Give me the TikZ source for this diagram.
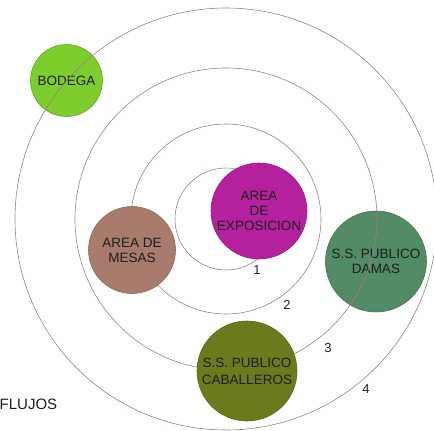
\documentclass[tikz,border=0pt]{standalone}
\usepackage{fontspec}
\setmainfont{Liberation Sans}
\usepackage{tikz}
\usetikzlibrary{
  positioning
}
\definecolor{RingMauve}{RGB}{160,128,132}
\definecolor{BodegaGreen}{RGB}{125,205,45}
\definecolor{ExpoMagenta}{RGB}{181,32,158}
\definecolor{MesasBrown}{RGB}{169,123,108}
\definecolor{DamasGreen}{RGB}{82,139,101}
\definecolor{CaballerosOlive}{RGB}{107,122,28}
\definecolor{LabelInk}{RGB}{30,30,30}
\tikzset{
  zone/.style={
    circle,
    inner sep=0pt,
    line width=0.6pt,
    align=center,
    text=LabelInk,
    font=\fontsize{13.5}{15}\selectfont
  },
  bodegazone/.style={zone,draw=BodegaGreen!80!black,fill=BodegaGreen},
  expozone/.style={zone,draw=ExpoMagenta!85!black,fill=ExpoMagenta},
  mesaszone/.style={zone,draw=MesasBrown!85!black,fill=MesasBrown},
  damaszone/.style={zone,draw=DamasGreen!85!black,fill=DamasGreen},
  caballeroszone/.style={zone,draw=CaballerosOlive!85!black,fill=CaballerosOlive,
    font=\fontsize{13.5}{17}\selectfont},
  flow/.style={draw=RingMauve,line width=0.6pt},
  flownum/.style={text=LabelInk,font=\fontsize{13}{15}\selectfont,inner sep=0pt}
}

\begin{document}
\begin{tikzpicture}[x=1pt, y=-1pt]
  \useasboundingbox (0,0) rectangle (434,431);
  \coordinate (hub) at (226,219);

  % zones that the flows cross over
  \node[bodegazone, minimum size=72pt] (bodega) at (66.5,80.5) {BODEGA};
  \node[damaszone, minimum size=101pt] (damas) at (376,261.5) {S.S. PUBLICO\\DAMAS};

  % flows
  \foreach \r in {51,95,151,211}
    \draw[flow] (hub) circle[radius=\r pt];

  % zones on top of the flows
  \node[mesaszone, minimum size=87pt] (mesas) at (132,250) {AREA DE\\MESAS};
  \node[expozone, minimum size=96pt] (expo) at (259,211) {AREA\\DE\\EXPOSICION};
  \node[caballeroszone, minimum size=100pt] (caballeros) at (247,371) {S.S. PUBLICO\\CABALLEROS};

  \node[flownum] (num1) at (257,270) {1};
  \node[flownum] (num2) at (287,305) {2};
  \node[flownum] (num3) at (328,348) {3};
  \node[flownum] (num4) at (366,389) {4};

  \node[anchor=west, inner sep=0pt, text=LabelInk, font=\fontsize{15}{17}\selectfont] (flujos) at (-0.5,404) {FLUJOS};
\end{tikzpicture}
\end{document}
